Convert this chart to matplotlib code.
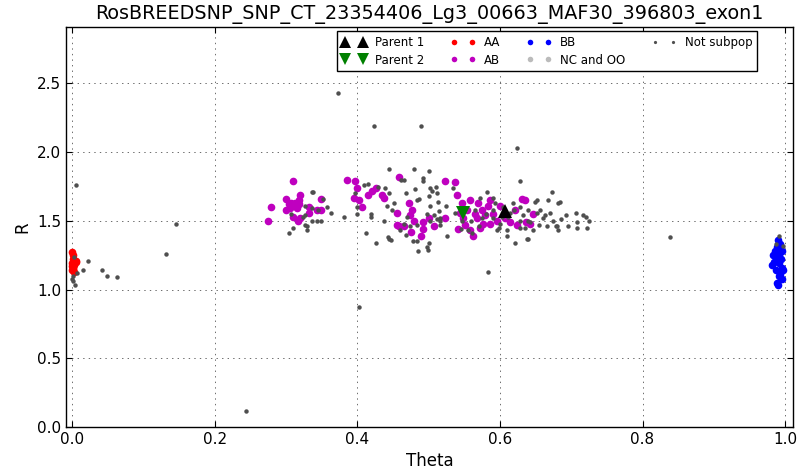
import numpy as np
import matplotlib
matplotlib.use('Agg')
import matplotlib.pyplot as plt

title = 'RosBREEDSNP_SNP_CT_23354406_Lg3_00663_MAF30_396803_exon1'

# rodzice
parent1_theta = [0.607]
parent1_r = [1.57]
parent2_theta = [0.548]
parent2_r = [1.56]

# homozygoty AA (theta ~ 0)
aa_theta = [0.000, 0.001, 0.002, 0.004, 0.006, 0.000, 0.003, 0.000, 0.002,
            0.001, 0.000, 0.003, 0.005]
aa_r = [1.27, 1.25, 1.22, 1.21, 1.20, 1.19, 1.18, 1.17, 1.16,
        1.15, 1.14, 1.13, 1.21]

# heterozygoty AB
ab_theta = [0.310, 0.279, 0.275, 0.300, 0.320, 0.318, 0.313, 0.306, 0.300, 0.316,
            0.310, 0.320, 0.317, 0.332, 0.332, 0.349, 0.343, 0.349, 0.307, 0.312,
            0.304, 0.318,
            0.386, 0.397, 0.400, 0.395, 0.402, 0.406, 0.415, 0.420, 0.426, 0.434,
            0.437, 0.458, 0.455, 0.459, 0.465, 0.472, 0.477, 0.474, 0.480, 0.475,
            0.489, 0.492, 0.492, 0.500, 0.508, 0.523, 0.523, 0.455,
            0.537, 0.540, 0.541, 0.547, 0.554, 0.558, 0.562, 0.568, 0.569, 0.575,
            0.576, 0.583, 0.586, 0.590, 0.600, 0.621, 0.635, 0.642, 0.647, 0.624,
            0.551, 0.558, 0.565, 0.579, 0.596, 0.607, 0.614, 0.544, 0.548, 0.572,
            0.586, 0.631, 0.637]
ab_r = [1.79, 1.60, 1.50, 1.66, 1.69, 1.65, 1.61, 1.59, 1.58, 1.59,
        1.53, 1.52, 1.50, 1.60, 1.56, 1.66, 1.58, 1.58, 1.63, 1.63,
        1.62, 1.62,
        1.80, 1.79, 1.74, 1.67, 1.65, 1.60, 1.69, 1.72, 1.74, 1.69,
        1.67, 1.82, 1.56, 1.46, 1.46, 1.63, 1.58, 1.54, 1.50, 1.42,
        1.39, 1.49, 1.44, 1.52, 1.46, 1.79, 1.52, 1.47,
        1.78, 1.69, 1.44, 1.63, 1.58, 1.65, 1.39, 1.52, 1.63, 1.58,
        1.48, 1.61, 1.65, 1.55, 1.61, 1.58, 1.65, 1.48, 1.55, 1.47,
        1.47, 1.43, 1.55, 1.54, 1.50, 1.52, 1.49, 1.56, 1.52, 1.45,
        1.48, 1.66, 1.49]

# homozygoty BB (theta ~ 1)
bb_theta = [0.990, 0.988, 0.986, 0.992, 0.983, 0.985, 0.991, 0.995, 0.987, 0.993,
            0.995, 0.989, 0.990, 0.994, 0.996, 0.982, 0.993, 0.988, 0.991, 0.997]
bb_r = [1.36, 1.31, 1.28, 1.25, 1.25, 1.20, 1.19, 1.16, 1.14, 1.11,
        1.08, 1.05, 1.03, 1.22, 1.28, 1.18, 1.33, 1.22, 1.10, 1.14]

# brak wywolania / poza subpopulacja
nc_theta = []
nc_r = []

ns_theta = [0.006, 0.373, 0.423, 0.490, 0.624, 0.403, 0.244, 0.839, 0.146, 0.132,
            0.023, 0.016, 0.042, 0.049, 0.063, 0.007, 0.004, 0.000, 0.001, 0.003,
            0.002, 0.992, 0.987, 0.997,
            0.336, 0.338, 0.352, 0.357, 0.363, 0.343, 0.349, 0.329, 0.330, 0.327,
            0.304, 0.310, 0.307, 0.324, 0.326, 0.337, 0.345, 0.327, 0.337,
            0.382, 0.400, 0.400, 0.397, 0.410, 0.415, 0.429, 0.439, 0.419, 0.419,
            0.412, 0.426, 0.445, 0.461, 0.466, 0.480, 0.501, 0.492, 0.492, 0.445,
            0.451, 0.442, 0.437, 0.448, 0.444, 0.447, 0.468, 0.481, 0.486, 0.484,
            0.502, 0.505, 0.510, 0.512, 0.501, 0.502, 0.513, 0.525, 0.514, 0.508,
            0.502, 0.512, 0.498, 0.470, 0.466, 0.460, 0.484, 0.484, 0.485, 0.498,
            0.499, 0.501, 0.526, 0.516, 0.474, 0.468, 0.516, 0.443, 0.478,
            0.534, 0.547, 0.555, 0.561, 0.572, 0.582, 0.590, 0.593, 0.596, 0.599,
            0.603, 0.610, 0.611, 0.614, 0.619, 0.621, 0.628, 0.628, 0.633, 0.635,
            0.638, 0.640, 0.647, 0.652, 0.656, 0.663, 0.666, 0.673, 0.675, 0.680,
            0.682, 0.516, 0.537, 0.590, 0.600, 0.649, 0.668, 0.684, 0.670, 0.660,
            0.693, 0.707, 0.717, 0.721, 0.725, 0.708, 0.696, 0.708, 0.722, 0.686,
            0.678, 0.681, 0.655, 0.640, 0.610, 0.628, 0.642, 0.652, 0.628, 0.584,
            0.575, 0.565, 0.580, 0.620, 0.570, 0.560, 0.545, 0.590, 0.605, 0.640]
ns_r = [1.76, 2.43, 2.19, 2.19, 2.03, 0.87, 0.12, 1.38, 1.48, 1.26,
        1.21, 1.14, 1.14, 1.10, 1.09, 1.12, 1.03, 1.08, 1.06, 1.24,
        1.10, 1.39, 1.33, 1.32,
        1.71, 1.71, 1.66, 1.60, 1.56, 1.50, 1.50, 1.46, 1.43, 1.47,
        1.41, 1.45, 1.55, 1.53, 1.61, 1.59, 1.58, 1.54, 1.50,
        1.53, 1.55, 1.60, 1.70, 1.76, 1.77, 1.75, 1.74, 1.55, 1.53,
        1.41, 1.34, 1.88, 1.80, 1.80, 1.88, 1.86, 1.81, 1.79, 1.70,
        1.63, 1.61, 1.50, 1.58, 1.37, 1.36, 1.70, 1.73, 1.66, 1.65,
        1.74, 1.72, 1.75, 1.70, 1.68, 1.61, 1.64, 1.61, 1.57, 1.54,
        1.50, 1.51, 1.55, 1.53, 1.48, 1.43, 1.47, 1.35, 1.28, 1.31,
        1.29, 1.34, 1.39, 1.50, 1.46, 1.40, 1.47, 1.38, 1.35,
        1.74, 1.50, 1.43, 1.41, 1.67, 1.71, 1.67, 1.63, 1.43, 1.45,
        1.53, 1.43, 1.53, 1.56, 1.63, 1.34, 1.79, 1.60, 1.54, 1.45,
        1.37, 1.50, 1.43, 1.65, 1.58, 1.54, 1.46, 1.71, 1.50, 1.46,
        1.63, 1.52, 1.56, 1.58, 1.48, 1.64, 1.65, 1.64, 1.56, 1.52,
        1.54, 1.56, 1.54, 1.53, 1.50, 1.49, 1.46, 1.45, 1.45, 1.51,
        1.46, 1.43, 1.47, 1.37, 1.39, 1.45, 1.49, 1.56, 1.50, 1.13,
        1.52, 1.58, 1.55, 1.58, 1.46, 1.50, 1.44, 1.52, 1.60, 1.58]

# styl w duchu starego matplotliba
plt.rcParams['font.family'] = 'DejaVu Sans'
plt.rcParams['xtick.direction'] = 'in'
plt.rcParams['ytick.direction'] = 'in'
plt.rcParams['xtick.top'] = True
plt.rcParams['ytick.right'] = True
plt.rcParams['xtick.major.size'] = 4
plt.rcParams['ytick.major.size'] = 4

fig = plt.figure(figsize=(7.98, 4.75), dpi=100)
ax = fig.add_axes([0.0827, 0.101, 0.9110, 0.842])

ax.plot(parent1_theta, parent1_r, '^', color='k', ms=10, mew=0, ls='none',
        label='Parent 1', zorder=5)
ax.plot(parent2_theta, parent2_r, 'v', color='#008000', ms=10, mew=0, ls='none',
        label='Parent 2', zorder=5)
ax.plot(aa_theta, aa_r, 'o', color='r', ms=5.5, mew=0, ls='none', label='AA')
ax.plot(ab_theta, ab_r, 'o', color='m', ms=5.5, mew=0, ls='none', label='AB')
ax.plot(bb_theta, bb_r, 'o', color='b', ms=5.5, mew=0, ls='none', label='BB')
ax.plot(nc_theta, nc_r, 'o', color='#bbbbbb', ms=5.5, mew=0, ls='none',
        label='NC and OO')
ax.plot(ns_theta, ns_r, 'o', color='#4f4f4f', ms=3.2, mew=0, ls='none',
        label='Not subpop')

ax.set_xlim(-0.0085, 1.011)
ax.set_ylim(0, 2.91)
ax.set_xticks([0.0, 0.2, 0.4, 0.6, 0.8, 1.0])
ax.set_yticks([0.0, 0.5, 1.0, 1.5, 2.0, 2.5])
ax.tick_params(labelsize=11)
ax.grid(True, color='#333333', linestyle=(0, (2, 6)), linewidth=0.5)
for s in ax.spines.values():
    s.set_linewidth(1.0)

ax.set_xlabel('Theta', fontsize=12)
ax.set_ylabel('R', fontsize=12)
ax.set_title(title, fontsize=13.8)

leg = ax.legend(loc='upper right', bbox_to_anchor=(0.9505, 0.99), borderaxespad=0,
                ncol=4, numpoints=2, fontsize=8.5,
                handlelength=2.1, fancybox=False, framealpha=1, borderpad=0.4,
                labelspacing=0.4, columnspacing=2.25, handletextpad=0.7)
leg.get_frame().set_edgecolor('k')
leg.get_frame().set_linewidth(1.0)
# mniejsze kropki w legendzie, trojkaty bez zmian
for h, ms in zip(leg.legend_handles, [9, 9, 4, 4, 4, 4, 2.3]):
    h.set_markersize(ms)

fig.savefig('out.png', dpi=100)
